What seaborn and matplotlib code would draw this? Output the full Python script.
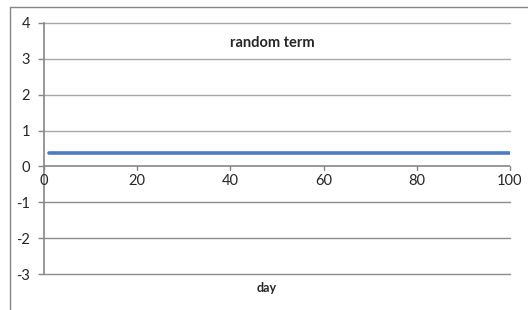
import numpy as np
import pandas as pd
import matplotlib
matplotlib.use('Agg')
import matplotlib.pyplot as plt
from matplotlib.lines import Line2D
import seaborn as sns

#data
days = list(range(1, 101))
random_term = [0.38] * len(days)
x_ticks = [0, 20, 40, 60, 80, 100]
y_ticks = [-3, -2, -1, 0, 1, 2, 3, 4]

df = pd.DataFrame({'day': days, 'random term': random_term})

sns.set_style('white')
plt.rcParams['font.family'] = ['Lato', 'DejaVu Sans']
plt.rcParams['axes.unicode_minus'] = False

fig = plt.figure(figsize=(5.28, 3.10), dpi=100)
ax = fig.add_axes([44 / 528, 1 - 274 / 310, (510 - 44) / 528, (274 - 23) / 310])

sns.lineplot(data=df, x='day', y='random term', ax=ax, color='#4A7EBB', linewidth=2.6)

ax.set_xlim(0, 100)
ax.set_ylim(-3, 4)
ax.set_xticks(x_ticks)
ax.set_yticks(y_ticks)

#gridlines
for y in y_ticks:
    if y != 0:
        ax.axhline(y, color='#8c8c8c' if y < 0 else '#a8a8a8', linewidth=1.0, zorder=0, clip_on=False)

#spines: left axis and x axis crossing at 0
for s in ['top', 'right', 'bottom']:
    ax.spines[s].set_visible(False)
ax.spines['left'].set_color('#868686')
ax.spines['left'].set_linewidth(1.2)
ax.axhline(0, color='#868686', linewidth=1.2, zorder=1)

ax.tick_params(axis='y', length=4, color='#868686', width=1, labelsize=10.5, pad=6, left=True)
ax.tick_params(axis='x', length=0, labelsize=10.5)
ax.set_xticklabels([])
for x in x_ticks:
    ax.plot([x, x], [0, -0.11], color='#868686', linewidth=1, clip_on=False)
    ax.text(x, -0.2, str(x), ha='center', va='top', fontsize=10.5)

ax.set_xlabel('')
ax.set_ylabel('')
ax.text(0.49, 0.92, 'random term', transform=ax.transAxes, ha='center', va='center',
        fontsize=10.5, fontweight='bold')
fig.text(267 / 528, 1 - 288 / 310, 'day', ha='center', va='center', fontsize=9, fontweight='bold')

#outer chart border
fig.add_artist(Line2D([10 / 528, 10 / 528], [0, 1 - 7 / 310], color='#868686', linewidth=1))
fig.add_artist(Line2D([10 / 528, 1], [1 - 7 / 310, 1 - 7 / 310], color='#868686', linewidth=1))

fig.savefig('out.png', dpi=100)
